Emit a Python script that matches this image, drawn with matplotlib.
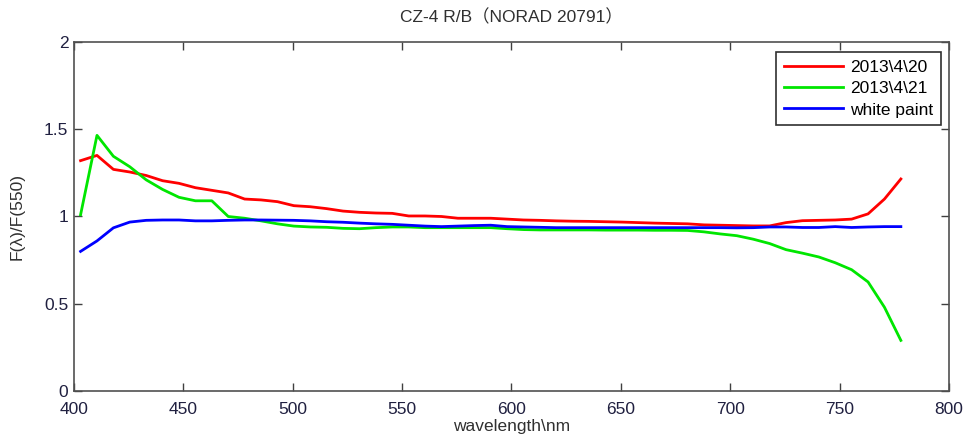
import matplotlib
matplotlib.use("Agg")
import matplotlib.pyplot as plt

# wavelength samples (nm)
wavelength = [403, 410.5, 418, 425.5, 433, 440.5, 448, 455.5, 463, 470.5,
              478, 485.5, 493, 500.5, 508, 515.5, 523, 530.5, 538, 545.5,
              553, 560.5, 568, 575.5, 583, 590.5, 598, 605.5, 613, 620.5,
              628, 635.5, 643, 650.5, 658, 665.5, 673, 680.5, 688, 695.5,
              703, 710.5, 718, 725.5, 733, 740.5, 748, 755.5, 763, 770.5, 778]

# 2013\4\20 observation
obs_0420 = [1.32, 1.35, 1.27, 1.255, 1.235, 1.205, 1.19, 1.165, 1.15, 1.135,
            1.10, 1.095, 1.085, 1.062, 1.056, 1.045, 1.031, 1.024, 1.02, 1.018,
            1.003, 1.003, 1.0, 0.99, 0.99, 0.99, 0.985, 0.98, 0.978, 0.975,
            0.973, 0.972, 0.97, 0.968, 0.965, 0.962, 0.96, 0.958, 0.952, 0.95,
            0.948, 0.946, 0.946, 0.965, 0.976, 0.978, 0.98, 0.985, 1.015, 1.10, 1.215]

# 2013\4\21 observation
obs_0421 = [1.01, 1.465, 1.345, 1.285, 1.21, 1.155, 1.11, 1.09, 1.09, 1.0,
            0.99, 0.975, 0.958, 0.945, 0.94, 0.938, 0.932, 0.93, 0.936, 0.94,
            0.94, 0.936, 0.936, 0.936, 0.936, 0.936, 0.93, 0.925, 0.923, 0.923,
            0.923, 0.923, 0.922, 0.922, 0.922, 0.921, 0.921, 0.92, 0.912, 0.9,
            0.89, 0.87, 0.845, 0.81, 0.79, 0.768, 0.735, 0.695, 0.625, 0.48, 0.29]

# white paint reference
white_paint = [0.80, 0.86, 0.935, 0.968, 0.978, 0.98, 0.98, 0.975, 0.975, 0.978,
               0.98, 0.98, 0.979, 0.978, 0.975, 0.97, 0.967, 0.962, 0.958, 0.955,
               0.95, 0.945, 0.942, 0.945, 0.948, 0.95, 0.942, 0.94, 0.938, 0.936,
               0.936, 0.936, 0.936, 0.936, 0.936, 0.936, 0.936, 0.936, 0.936, 0.936,
               0.935, 0.936, 0.94, 0.94, 0.937, 0.937, 0.942, 0.937, 0.94, 0.942, 0.942]

fig = plt.figure(figsize=(9.65, 4.36), dpi=100)
ax = fig.add_axes([0.0767, 0.1032, 0.9067, 0.8005])

ax.plot(wavelength, obs_0420, color='#ff0000', lw=2, label=r'2013\4\20')
ax.plot(wavelength, obs_0421, color='#00e600', lw=2, label=r'2013\4\21')
ax.plot(wavelength, white_paint, color='#0000ff', lw=2, label='white paint')

ax.set_xlim(400, 800)
ax.set_ylim(0, 2)
ax.set_xticks(range(400, 801, 50))
ax.set_yticks([0, 0.5, 1, 1.5, 2])
ax.set_yticklabels(['0', '0.5', '1', '1.5', '2'])

fam = ['Liberation Sans', 'Noto Sans CJK SC']
ax.tick_params(direction='in', top=True, right=True, length=6, width=1,
               color='#404040', labelsize=12.5, labelcolor='#202040')
ax.tick_params(axis='x', pad=8)
ax.tick_params(axis='y', pad=4)
for lab in ax.get_xticklabels() + ax.get_yticklabels():
    lab.set_family(fam)
for s in ax.spines.values():
    s.set_color('#505050')
    s.set_linewidth(1.2)

ax.set_title('CZ-4 R/B（NORAD 20791）', family=fam, fontsize=12.5, color='#303030', pad=14)
ax.set_xlabel(r'wavelength\nm', family=fam, fontsize=12.5, color='#303030', labelpad=1)
ax.set_ylabel('F(λ)/F(550)', family=fam, fontsize=12.5, color='#303030', labelpad=14)

leg = ax.legend(loc='upper right', bbox_to_anchor=(0.991, 0.971), borderaxespad=0,
                fancybox=False, edgecolor='#303030', framealpha=1,
                prop={'family': fam, 'size': 12.5}, handlelength=3.4,
                handletextpad=0.4, labelspacing=0.35, borderpad=0.45)
leg.get_frame().set_linewidth(1.2)

fig.savefig('out.png', dpi=100)
